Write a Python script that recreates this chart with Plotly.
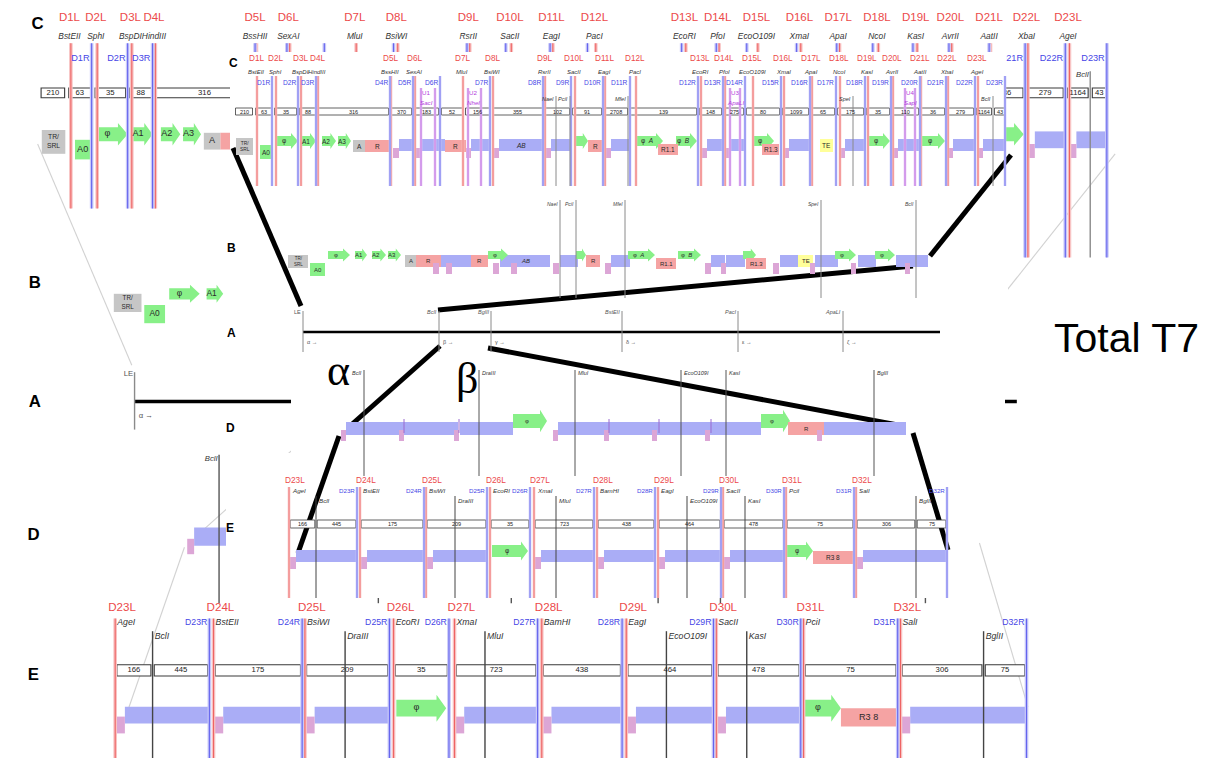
import re
import plotly.graph_objects as go

W, H = 1214, 758

# ---------------- DATA ----------------
# Panel C : deletion map (map positions in panel units)
C_L_LABELS = ["D1L","D2L","D3L","D4L","D5L","D6L","D7L","D8L","D9L","D10L","D11L","D12L",
              "D13L","D14L","D15L","D16L","D17L","D18L","D19L","D20L","D21L","D22L","D23L"]
C_L_POS = [249,268,293,310,383,407,455,485,537,567,597,628,693,717,745,776,804,832,860,885,913,940,970]
C_L_ENZYMES = ["BstEII","SphI","BspDI","HindIII","BssHII","SexAI","MluI","BsiWI","RsrII","SacII","EagI",
               "PacI","EcoRI","PfoI","EcoO109I","XmaI","ApaI","NcoI","KasI","AvrII","AatII","XbaI","AgeI"]
C_R_LABELS = ["D1R","D2R","D3R","D4R","D5R","D6R","D7R","D8R","D9R","D10R","D11R","D12R",
              "D13R","D14R","D15R","D16R","D17R","D18R","D19R","D20R","D21R","D22R","D23R"]
C_R_POS = [264,290,308,382,405,432,482,535,563,595,622,690,715,737,773,802,828,857,883,912,938,967,997]
C_U_LABELS = ["U1","U2","U3","U4"]
C_U_ENZYMES = ["SacI","NheI","ApaLI","SapI"]
C_U_POS = [413,460,722,897]
C_U_POS2 = [427,473,732,907]
C_SITES = ["NaeI","PciI","MfeI","SpeI","BclI"]
C_SITE_POS = [548,562,620,845,985]
C_SIZES = [210,63,35,88,316,370,183,52,156,355,102,91,2708,139,148,275,80,1099,65,175,35,110,36,279,1164,43]
C_SIZE_EDGES = [226,246,265,290,309,382,405,432,456,483,536,563,595,621,690,715,737,773,802,828,857,883,912,938,967,985,998]
C_GENES = [
    ("grey2",228,245,"TR/<br>SRL"), ("gbox",252,263,"A0"), ("arrow",268,290,"φ"),
    ("arrow",293,308,"A1"), ("arrow",314,328,"A2"), ("arrow",330,343,"A3"),
    ("grey",345,357,"A"), ("pink",357,382,"R"),
    ("small",385,391,""), ("blue",391,405,""),
    ("small",407,412,""), ("blue",412,437,""), ("pink",437,458,"R"),
    ("small",458,463,""), ("blue",463,482,""),
    ("small",485,491,""), ("blue",491,535,"<i>AB</i>"),
    ("small",537,543,""), ("blue",543,563,""),
    ("arrow",567,580,""), ("pink",580,595,"R"),
    ("small",597,603,""), ("blue",603,622,""),
    ("arrow",629,655,"φ  <i>A</i>"), ("pinklow",650,670,"R1.1"), ("arrow",668,689,"φ  <i>B</i>"),
    ("small",693,699,""), ("blue",699,715,""),
    ("small",717,722,""), ("blue",722,737,""),
    ("arrow",745,766,"φ"), ("pinklow",754,771,"R1.3"),
    ("small",776,781,""), ("blue",781,802,""),
    ("yellow",812,825,"TE"),
    ("small",832,837,""), ("blue",837,857,""),
    ("arrow",860,882,"φ"),
    ("small",885,890,""), ("blue",890,912,""),
    ("arrow",913,937,"φ"),
    ("small",940,945,""), ("blue",945,967,""),
    ("small",970,975,""), ("blue",975,997,""),
]

# Panel B : to-scale left end
B_SITES = ["NaeI","PciI","MfeI","SpeI","BclI"]
B_SITE_POS = [552,568,617,813,908]
B_GENES = [
    ("grey2",280,300,"TR/<br>SRL"), ("gbox",302,317,"A0"), ("arrow",320,342,"φ"),
    ("arrow",347,359,"A1"), ("arrow",364,378,"A2"), ("arrow",380,393,"A3"),
    ("grey",397,408,"A"), ("pink",408,433,"R"), ("small",425,431,""),
    ("blue",433,463,""), ("small",438,444,""), ("pink",463,480,"R"),
    ("arrow",480,500,"φ"), ("small",485,491,""), ("blue",492,542,"<i>AB</i>"), ("small",503,509,""),
    ("small",545,551,""), ("blue",552,570,""),
    ("arrow",568,578,""), ("pink",578,592,"R"),
    ("small",597,603,""), ("blue",603,622,""),
    ("arrow",620,647,"φ  <i>A</i>"), ("pinklow",648,668,"R1.1"), ("arrow",670,693,"φ  <i>B</i>"),
    ("small",697,703,""), ("blue",703,717,""), ("small",713,718,""), ("blue",718,737,""),
    ("arrow",735,748,""), ("pinklow",738,758,"R1.3"),
    ("small",765,771,""), ("blue",772,790,""), ("yellow",790,805,"TE"),
    ("small",802,807,""), ("blue",807,830,""), ("arrow",827,848,"φ"),
    ("small",843,848,""), ("blue",850,868,""), ("arrow",867,887,"φ"),
    ("blue",888,920,""), ("small",897,902,""),
]

# Panel A : whole genome line
A_SITES = ["LE","BclI","BglII","BstEII","PacI","ApaLI"]
A_GREEK = ["α","β","γ","δ","ε","ζ"]
A_SITE_POS = [295,431,483,614,730,835]
A_LINE = (295, 932)

# Panel D : beta region
D_SITES = ["BclI","DraIII","MluI","EcoO109I","KasI","BglII"]
D_SITE_POS = [356,471,567,673,718,866]
D_TICKS = [396,451,601,651,703]
D_GENES = [
    ("blue",338,450,""), ("blue",452,505,""), ("arrow",505,539,"φ"),
    ("blue",550,753,""), ("arrow",753,782,"φ"), ("pink",780,816,"R"), ("blue",816,898,""),
    ("small",333,338,""), ("small",391,396,""), ("small",446,451,""), ("small",545,550,""),
    ("small",596,601,""), ("small",644,649,""), ("small",697,702,""), ("small",809,814,""),
]

# Panel E : deletion map of beta region
E_L_LABELS = ["D23L","D24L","D25L","D26L","D27L","D28L","D29L","D30L","D31L","D32L"]
E_L_POS = [281,352,418,482,526,589,650,715,778,848]
E_L_ENZYMES = ["AgeI","BstEII","BsiWI","EcoRI","XmaI","BamHI","EagI","SacII","PciI","SalI"]
E_R_LABELS = ["D23R","D24R","D25R","D26R","D27R","D28R","D29R","D30R","D31R","D32R"]
E_R_POS = [349,416,479,522,586,647,713,776,846,939]
E_SITES = ["BclI","DraIII","MluI","EcoO109I","KasI","BglII"]
E_SITE_POS = [308,447,548,679,737,908]
E_SIZES = [166,445,175,209,35,723,438,464,478,75,306,75]
E_BOX_START = [281,308,352,418,482,526,589,650,715,778,848,908]
E_BOX_END = [308,349,416,479,522,586,647,713,776,846,908,939]
E_GENES = [
    ("blue",288,349,""), ("blue",359,415,""), ("blue",425,478,""),
    ("arrow",484,520,"φ"),
    ("blue",533,585,""), ("blue",596,646,""), ("blue",657,712,""), ("blue",722,775,""),
    ("arrow",779,805,"φ"), ("pink",805,845,"R3 8"), ("blue",855,938,""),
    ("small",282,288,""), ("small",353,359,""), ("small",419,425,""), ("small",527,533,""),
    ("small",590,596,""), ("small",651,657,""), ("small",716,722,""), ("small",849,855,""),
]

# zoom connectors (thick black lines)
CONNECTORS = [((225,140),(293,298)), ((1003,147),(922,248)), ((430,302),(905,258)),
              ((432,338),(342,418)), ((480,340),(895,418)), ((331,428),(290,545)),
              ((905,425),(940,542))]

# ---------------- STYLE ----------------
RED_T, BLUE_T, PURPLE_T = "#ec4a4a", "#4646e6", "#b43cdc"
RED_LN, BLUE_LN, PURPLE_LN = "#ee6464", "#6464ee", "#b860e0"
RED_HALO, BLUE_HALO, PURPLE_HALO = "#f8c4c4", "#c8c8f8", "#e6c4f4"
GREEN, GREY, PINK, BLUE, SMALL, YELLOW = "#88f088", "#c6c6c6", "#f5a3a3", "#aaadf6", "#dca6d6", "#ffff9a"
KIND_COL = {"grey2": GREY, "grey": GREY, "gbox": GREEN, "pink": PINK, "pinklow": PINK, "blue": BLUE,
            "small": SMALL, "yellow": YELLOW, "arrow": GREEN}
KIND_ORDER = {"blue": 0, "grey": 0, "grey2": 0, "gbox": 0, "arrow": 1, "pink": 2, "pinklow": 2,
              "yellow": 2, "small": 3}

# white areas of the inset (pixel layout)
WHITE_BOXES = [(222, 44, 998, 183), (218, 183, 1000, 350), (283, 350, 997, 445), (218, 445, 965, 590)]

shapes_bg, shapes_fg, bg_txt, annos = [], [], [], []


def tf(layer, x, y):
    if layer == "bg":
        return 1.385 * x - 282, 1.4 * y - 60
    return x, y


def kf(layer):
    return 1.4 if layer == "bg" else 1.0


def add_shape(layer, d):
    d["layer"] = "below" if layer == "bg" else "above"
    (shapes_bg if layer == "bg" else shapes_fg).append(d)


def rect(layer, x0, y0, x1, y1, fill, lc=None, lw=0.8):
    X0, Y0 = tf(layer, x0, y0)
    X1, Y1 = tf(layer, x1, y1)
    add_shape(layer, dict(type="rect", x0=X0, y0=Y0, x1=X1, y1=Y1, fillcolor=fill,
                          line=dict(color=lc if lc else fill, width=(lw * kf(layer)) if lc else 0)))


def seg(layer, x0, y0, x1, y1, color, w):
    X0, Y0 = tf(layer, x0, y0)
    X1, Y1 = tf(layer, x1, y1)
    add_shape(layer, dict(type="line", x0=X0, y0=Y0, x1=X1, y1=Y1,
                          line=dict(color=color, width=w * kf(layer))))


def vline2(layer, x, y0, y1, halo, core):
    seg(layer, x, y0, x, y1, halo, 2.6)
    seg(layer, x, y0, x, y1, core, 0.8)


def poly(layer, pts, fill):
    P = [tf(layer, x, y) for x, y in pts]
    path = "M " + " L ".join(f"{x:.2f},{y:.2f}" for x, y in P) + " Z"
    add_shape(layer, dict(type="path", path=path, fillcolor=fill, line=dict(width=0)))


def hidden(X, Y, s, size, anchor):
    """True if a background text lies completely under a white inset area."""
    lines = re.sub(r"<(?!br)[^>]+>", "", s).split("<br>")
    w = max(len(l) for l in lines) * size * 0.6 + 4
    h = size * 1.3 * len(lines)
    if anchor == "left":
        x0, x1 = X, X + w
    elif anchor == "right":
        x0, x1 = X - w, X
    else:
        x0, x1 = X - w / 2, X + w / 2
    y0, y1 = Y - h / 2, Y + h / 2
    return any(bx0 <= x0 and x1 <= bx1 and by0 <= y0 and y1 <= by1 for bx0, by0, bx1, by1 in WHITE_BOXES)


def txt(layer, x, y, s, size, color="#222", anchor="center", family="Arial"):
    X, Y = tf(layer, x, y)
    if layer == "bg":
        sz = round(size * 1.4, 1)
        if not hidden(X, Y, s, sz, anchor):
            bg_txt.append((X, Y, s, sz, color, anchor, family))
    else:
        annos.append(dict(x=X, y=Y, text=s, showarrow=False, xanchor=anchor, yanchor="middle",
                          borderpad=0, font=dict(size=size, color=color, family=family)))


def arrow(layer, x0, x1, y0, y1, fill):
    hl = min(7.0, 0.4 * (x1 - x0))
    xh = x1 - hl
    e = (y1 - y0) * 0.3
    poly(layer, [(x0, y0), (xh, y0), (xh, y0 - e), (x1, (y0 + y1) / 2), (xh, y1 + e), (xh, y1), (x0, y1)], fill)


def genes(layer, feats, lv, fs):
    for kind, a, b, lab in sorted(feats, key=lambda f: KIND_ORDER[f[0]]):
        y0, y1 = lv[kind]
        if kind == "arrow":
            arrow(layer, a, b, y0, y1, GREEN)
            cx = (a + b - min(7.0, 0.4 * (b - a))) / 2
        else:
            rect(layer, a, y0, b, y1, KIND_COL[kind])
            cx = (a + b) / 2
        if lab:
            txt(layer, cx, (y0 + y1) / 2, lab, fs if "<br>" not in lab else fs * 0.75, "#2a2a2a")


LV_C = {"arrow": (128, 138), "gbox": (137, 151), "grey2": (130, 147), "grey": (132, 144), "pink": (132, 144),
        "pinklow": (136, 147), "blue": (131, 143), "small": (140, 150), "yellow": (131, 144)}
LV_B = {"arrow": (243, 251), "gbox": (255, 268), "grey2": (247, 260), "grey": (247, 259), "pink": (247, 259),
        "pinklow": (250, 261), "blue": (247, 259), "small": (255, 266), "yellow": (247, 259)}
LV_D = {"arrow": (406, 420), "blue": (414, 427), "pink": (414, 427), "small": (422, 433)}
LV_E = {"arrow": (537, 549), "blue": (542, 554), "pink": (543, 556), "small": (549, 561)}


def c_bottom(layer, x):
    # background copy: left lines stop higher than right ones
    if layer == "bg":
        return 186 if tf("bg", x, 0)[0] < 222 else 221
    return 178


def panel_C(layer):
    txt(layer, 225, 55, "<b>C</b>", 12, "black")
    for i, s in enumerate(C_SIZES):
        a, b = C_SIZE_EDGES[i] + 1.5, C_SIZE_EDGES[i + 1] - 1.5
        rect(layer, a, 100, b, 107, "white", "#3a3a3a", 0.8)
        txt(layer, (a + b) / 2, 103.5, str(s), 5.5, "#222")
    genes(layer, C_GENES, LV_C, 6.5)
    for x in C_L_POS:
        vline2(layer, x, 68, c_bottom(layer, x), RED_HALO, RED_LN)
    for x in C_R_POS:
        vline2(layer, x, 68, c_bottom(layer, x), BLUE_HALO, BLUE_LN)
    for x1, x2 in zip(C_U_POS, C_U_POS2):
        vline2(layer, x1, 80, c_bottom(layer, x1), PURPLE_HALO, PURPLE_LN)
        vline2(layer, x2, 80, c_bottom(layer, x2), PURPLE_HALO, PURPLE_LN)
    for x in C_SITE_POS:
        seg(layer, x, 88, x, c_bottom(layer, x), "#8a8a8a", 1)
    for lab, x in zip(C_L_LABELS, C_L_POS):
        txt(layer, x - 1, 50, lab, 8.2, RED_T)
    for enz, x in zip(C_L_ENZYMES, C_L_POS):
        txt(layer, x - 1, 63.5, f"<i>{enz}</i>", 6, "#333")
    ry = 79 if layer == "bg" else 74.5
    for lab, x in zip(C_R_LABELS, C_R_POS):
        txt(layer, x - 1.5, ry, lab, 6.6, BLUE_T, "right")
    for lab, enz, x in zip(C_U_LABELS, C_U_ENZYMES, C_U_POS):
        txt(layer, x + 5, 84.5, lab, 6.2, PURPLE_T)
        txt(layer, x + 5, 94, f"<i>{enz}</i>", 6.2, PURPLE_T)
    for name, x in zip(C_SITES, C_SITE_POS):
        txt(layer, x - 1, 91, f"<i>{name}</i>", 5.5, "#333", "right")


def panel_B(layer):
    txt(layer, 223, 240, "<b>B</b>", 12, "black")
    genes(layer, B_GENES, LV_B, 6)
    for name, x in zip(B_SITES, B_SITE_POS):
        seg(layer, x, 192, x, 290, "#8a8a8a", 1)
        txt(layer, x - 1, 196, f"<i>{name}</i>", 5, "#444", "right")


def panel_A(layer):
    txt(layer, 223, 325, "<b>A</b>", 12, "black")
    seg(layer, A_LINE[0], 324, A_LINE[1], 324, "black", 2.5)
    for name, greek, x in zip(A_SITES, A_GREEK, A_SITE_POS):
        seg(layer, x, 303, x, 344, "#8a8a8a", 1)
        txt(layer, x - 1, 304, name if name == "LE" else f"<i>{name}</i>", 5.5, "#555", "right")
        txt(layer, x + 3, 334, f"{greek} →", 5.5, "#555", "left")


def panel_D(layer):
    txt(layer, 222, 420, "<b>D</b>", 12, "black")
    genes(layer, D_GENES, LV_D, 6)
    for x in D_TICKS:
        seg(layer, x, 411, x, 425, "#9a6ad0", 1)
    for name, x in zip(D_SITES, D_SITE_POS):
        seg(layer, x, 362, x, 468, "#555", 1)
        if name == "BclI":
            txt(layer, x - 1, 365, f"<i>{name}</i>", 5.5, "#333", "right")
        else:
            txt(layer, x + 1.5, 365, f"<i>{name}</i>", 5.5, "#333", "left")


def panel_E(layer, ybot):
    txt(layer, 222, 520, "<b>E</b>", 12, "black")
    for s, a, b in zip(E_SIZES, E_BOX_START, E_BOX_END):
        rect(layer, a + 1.2, 512, b - 1.2, 520, "white", "#3a3a3a", 0.8)
        txt(layer, (a + b) / 2, 516, str(s), 5.5, "#222")
    genes(layer, E_GENES, LV_E, 6.5)
    for x in E_L_POS:
        vline2(layer, x, 479, ybot, RED_HALO, RED_LN)
    for x in E_R_POS:
        vline2(layer, x, 479, ybot, BLUE_HALO, BLUE_LN)
    for x in E_SITE_POS:
        seg(layer, x, 488, x, ybot, "#444", 1)
    for lab, enz, x in zip(E_L_LABELS, E_L_ENZYMES, E_L_POS):
        txt(layer, x - 5, 471.5, lab, 8.3, RED_T, "left")
        txt(layer, x + 1.5, 482, f"<i>{enz}</i>", 6.2, "#333", "left")
    for lab, x in zip(E_R_LABELS, E_R_POS):
        txt(layer, x - 1.5, 482, lab, 6.2, BLUE_T, "right")
    for name, x in zip(E_SITES, E_SITE_POS):
        txt(layer, x + 1.5, 492, f"<i>{name}</i>", 6.2, "#333", "left")


# ---------------- background (large-scale copy) ----------------
for (p, q) in CONNECTORS:
    seg("bg", p[0], p[1], q[0], q[1], "#d2d2d2", 0.8)
panel_C("bg")
panel_B("bg")
panel_A("bg")
panel_D("bg")
panel_E("bg", 590)

# ---------------- foreground (inset) ----------------
for (x0, y0, x1, y1) in WHITE_BOXES:
    add_shape("fg", dict(type="rect", x0=x0, y0=y0, x1=x1, y1=y1, fillcolor="white", line=dict(width=0)))
for (p, q) in CONNECTORS:
    seg("fg", p[0], p[1], q[0], q[1], "black", 5)
panel_C("fg")
panel_B("fg")
panel_A("fg")
panel_D("fg")
panel_E("fg", 590)

annos.append(dict(x=1118, y=330, text="Total T7", showarrow=False, xanchor="center", yanchor="middle",
                  font=dict(size=41, color="black", family="Liberation Sans")))
annos.append(dict(x=330, y=362, text="α", showarrow=False, xanchor="center", yanchor="middle",
                  font=dict(size=44, color="black", family="Liberation Serif")))
annos.append(dict(x=459, y=370, text="β", showarrow=False, xanchor="center", yanchor="middle",
                  font=dict(size=44, color="black", family="Liberation Serif")))

# ---------------- build figure ----------------
fig = go.Figure()
groups = {}
pos_map = {"left": "middle right", "right": "middle left", "center": "middle center"}
for X, Y, s, size, color, anchor, family in bg_txt:
    key = (size, color, anchor, family)
    groups.setdefault(key, ([], [], []))
    groups[key][0].append(X)
    groups[key][1].append(Y)
    groups[key][2].append(s)
for (size, color, anchor, family), (xs, ys, ss) in groups.items():
    fig.add_trace(go.Scatter(x=xs, y=ys, text=ss, mode="text", textposition=pos_map[anchor],
                             textfont=dict(size=size, color=color, family=family),
                             hoverinfo="skip", showlegend=False, cliponaxis=False))

fig.update_layout(
    width=W, height=H, margin=dict(l=0, r=0, t=0, b=0),
    paper_bgcolor="white", plot_bgcolor="white", showlegend=False, hovermode=False,
    xaxis=dict(range=[0, W], visible=False, fixedrange=True),
    yaxis=dict(range=[H, 0], visible=False, fixedrange=True),
    shapes=shapes_bg + shapes_fg,
    annotations=annos,
)
fig.write_html("out.html")
